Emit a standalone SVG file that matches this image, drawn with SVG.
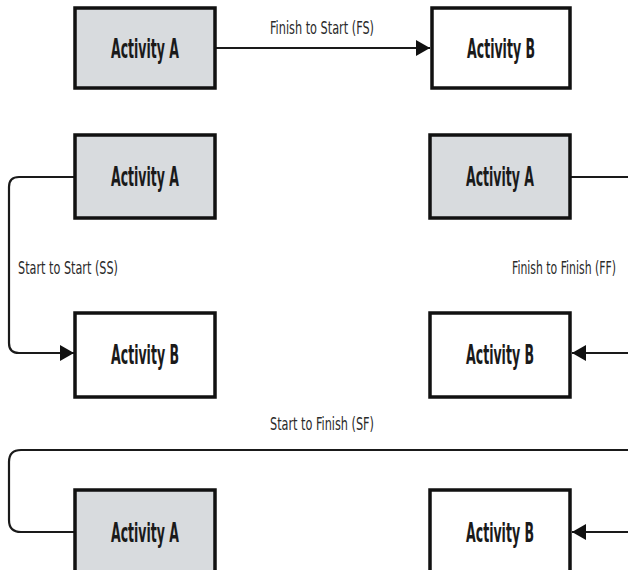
<svg xmlns="http://www.w3.org/2000/svg" width="628" height="570" viewBox="0 0 628 570">
  <style>
    .box { stroke: #111; stroke-width: 3.5; }
    .a { fill: #d8dbde; }
    .b { fill: #ffffff; }
    .name { font-family: "Liberation Sans Narrow", "DejaVu Sans Condensed", "Liberation Sans", sans-serif; font-weight: bold; font-size: 26px; fill: #1a1a1a; text-anchor: middle; }
    .lbl { font-family: "Liberation Sans Narrow", "DejaVu Sans Condensed", "Liberation Sans", sans-serif; font-size: 18px; fill: #2a2a2a; }
    .wire { fill: none; stroke: #1a1a1a; stroke-width: 2.2; }
  </style>
  <defs>
    <marker id="head" viewBox="0 0 14 16" refX="14" refY="8" markerWidth="14" markerHeight="16" markerUnits="userSpaceOnUse" orient="auto">
      <path d="M0,0 L14,8 L0,16 Z" fill="#111"/>
    </marker>
  </defs>
  <rect width="628" height="570" fill="#ffffff"/>

  <!-- connectors -->
  <g id="connectors">
    <path class="wire" d="M215,48 H430" marker-end="url(#head)"/>
    <path class="wire" d="M75,177 H19 Q9,177 9,187 V343 Q9,353 19,353 H74" marker-end="url(#head)"/>
    <path class="wire" d="M570,177 H628"/>
    <path class="wire" d="M628,353 H572" marker-end="url(#head)"/>
    <path class="wire" d="M628,450 H21 Q9,450 9,462 V520 Q9,532 21,532 H75"/>
    <path class="wire" d="M628,532 H572" marker-end="url(#head)"/>
  </g>

  <!-- connector labels -->
  <g id="labels">
    <text class="lbl" x="322" y="34" text-anchor="middle" textLength="104" lengthAdjust="spacingAndGlyphs">Finish to Start (FS)</text>
    <text class="lbl" x="18" y="274" textLength="100" lengthAdjust="spacingAndGlyphs">Start to Start (SS)</text>
    <text class="lbl" x="616" y="274" text-anchor="end" textLength="104" lengthAdjust="spacingAndGlyphs">Finish to Finish (FF)</text>
    <text class="lbl" x="322" y="430" text-anchor="middle" textLength="104" lengthAdjust="spacingAndGlyphs">Start to Finish (SF)</text>
  </g>

  <!-- Finish to Start -->
  <g id="fs-a">
    <rect class="box a" x="75" y="8" width="140" height="80"/>
    <text class="name" x="145" y="58" textLength="68" lengthAdjust="spacingAndGlyphs">Activity A</text>
  </g>
  <g id="fs-b">
    <rect class="box b" x="432" y="8" width="138" height="80"/>
    <text class="name" x="501" y="58" textLength="68" lengthAdjust="spacingAndGlyphs">Activity B</text>
  </g>

  <!-- Start to Start -->
  <g id="ss-a">
    <rect class="box a" x="75" y="135" width="140" height="83"/>
    <text class="name" x="145" y="186" textLength="68" lengthAdjust="spacingAndGlyphs">Activity A</text>
  </g>
  <g id="ss-b">
    <rect class="box b" x="75" y="313" width="140" height="84"/>
    <text class="name" x="145" y="364" textLength="68" lengthAdjust="spacingAndGlyphs">Activity B</text>
  </g>

  <!-- Finish to Finish -->
  <g id="ff-a">
    <rect class="box a" x="430" y="135" width="140" height="83"/>
    <text class="name" x="500" y="186" textLength="68" lengthAdjust="spacingAndGlyphs">Activity A</text>
  </g>
  <g id="ff-b">
    <rect class="box b" x="430" y="313" width="140" height="84"/>
    <text class="name" x="500" y="364" textLength="68" lengthAdjust="spacingAndGlyphs">Activity B</text>
  </g>

  <!-- Start to Finish -->
  <g id="sf-a">
    <rect class="box a" x="75" y="490" width="140" height="110"/>
    <text class="name" x="145" y="542" textLength="68" lengthAdjust="spacingAndGlyphs">Activity A</text>
  </g>
  <g id="sf-b">
    <rect class="box b" x="430" y="490" width="140" height="110"/>
    <text class="name" x="500" y="542" textLength="68" lengthAdjust="spacingAndGlyphs">Activity B</text>
  </g>
</svg>
